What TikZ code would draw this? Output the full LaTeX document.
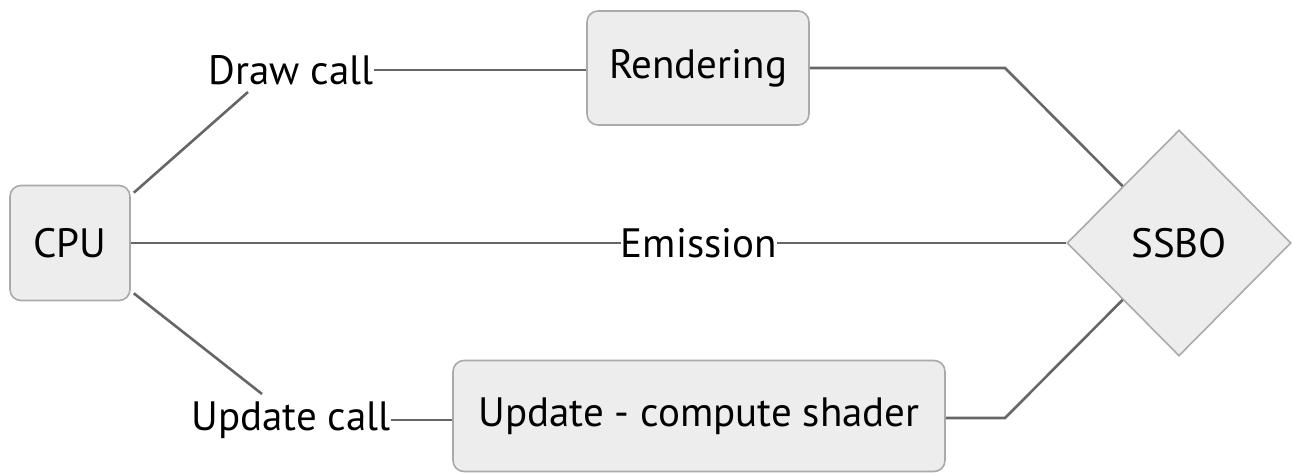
\documentclass[tikz,border=0pt]{standalone}
\usepackage{fontspec}
\setmainfont{PT Sans}
\usetikzlibrary{shapes.geometric}
\definecolor{boxfill}{HTML}{EDEDED}
\definecolor{boxline}{HTML}{AAAAAA}
\definecolor{wire}{HTML}{666666}
\begin{document}
\begin{tikzpicture}[x=1pt,y=-1pt,
  every node/.style={font=\fontsize{41}{46}\selectfont, text=black},
  box/.style={draw=boxline, fill=boxfill, line width=1.6pt, rounded corners=11pt, inner sep=0pt},
  lbl/.style={inner sep=0pt, fill=white},
  link/.style={draw=wire, line width=2.6pt}]
\useasboundingbox (0,0) rectangle (1293,474);
% nodes
\node[box, minimum width=120pt, minimum height=115pt] (cpu) at (70,243) {CPU};
\node[box, minimum width=222pt, minimum height=114pt] (rend) at (698,68) {Rendering};
\node[box, minimum width=492pt, minimum height=111pt] (upd) at (699,416) {Update - compute shader};
\node[diamond, draw=boxline, fill=boxfill, line width=1.6pt, minimum width=224pt, minimum height=226pt, inner sep=0pt] (ssbo) at (1179,243) {SSBO};
% edge labels
\node[lbl] (draw) at (291,70) {Draw call};
\node[lbl] (emis) at (699,243) {Emission};
\node[lbl] (updc) at (291,420) {Update call};
% connectors
\coordinate (c1) at (248,92);
\coordinate (c2) at (262,394);
\coordinate (k1) at (1005,68);
\coordinate (k2) at (1005,418);
\draw[link] (cpu.north east) ++(3,8) -- (c1);
\draw[link] (draw.east) -- (draw.east -| rend.west);
\draw[link] (rend.east |- k1) -- (k1) -- (ssbo.north west);
\draw[link] (cpu.east) -- (emis.west);
\draw[link] (emis.east) -- (ssbo.west);
\draw[link] (cpu.south east) ++(3,-8) -- (c2);
\draw[link] (updc.east) -- (updc.east -| upd.west);
\draw[link] (upd.east |- k2) -- (k2) -- (ssbo.south west);
\end{tikzpicture}
\end{document}
